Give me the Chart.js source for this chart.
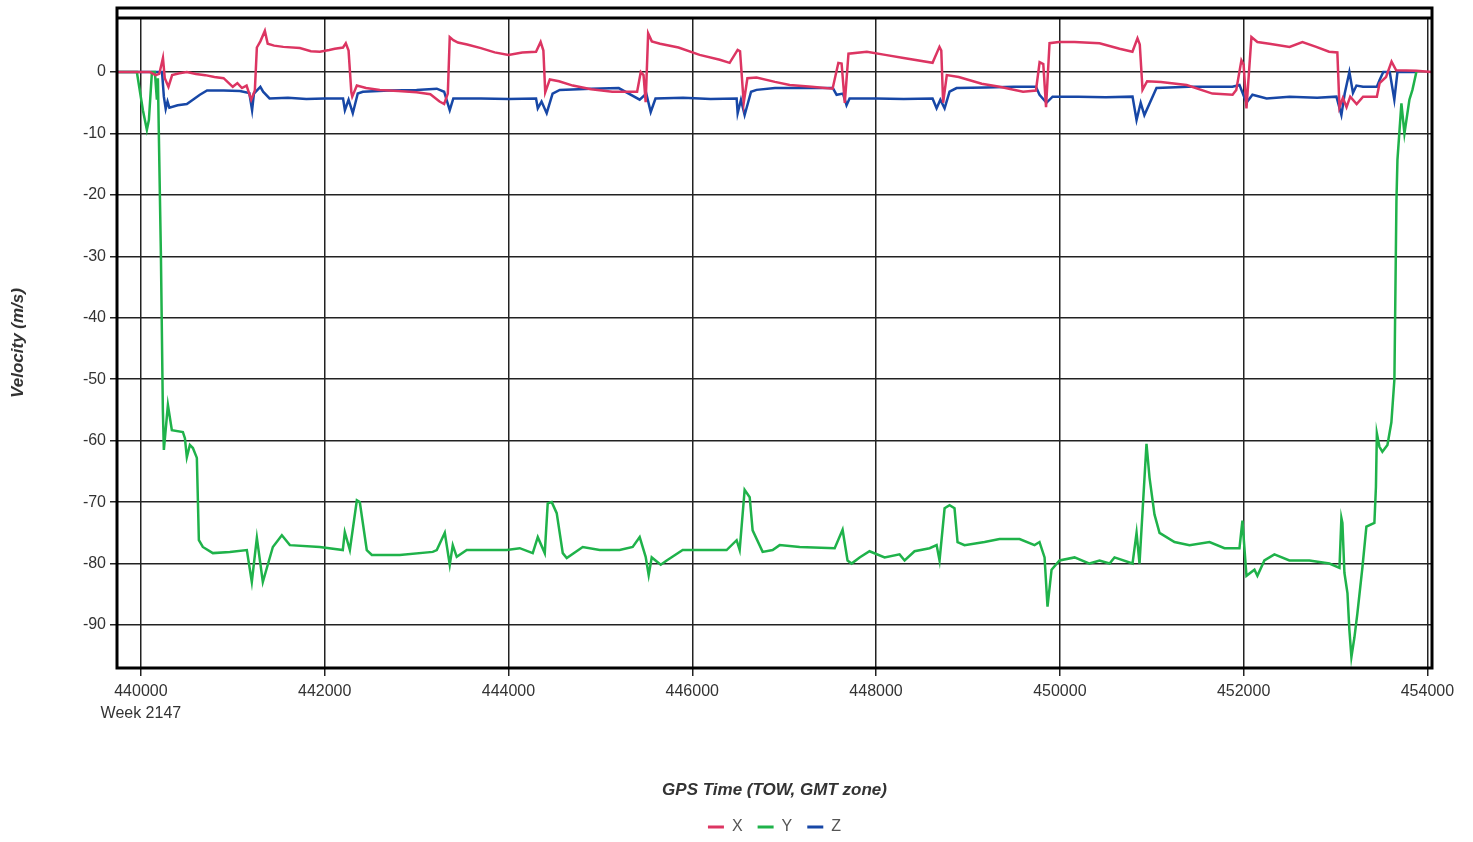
<!DOCTYPE html>
<html lang="en">
<head>
  <meta charset="UTF-8" />
  <title>Velocity vs GPS Time</title>
  <script src="https://cdn.jsdelivr.net/npm/chart.js"></script>
  <style>
    body { margin: 0; background: #fff; }
  </style>
</head>
<body>
  <canvas id="velChart" width="1473" height="842"></canvas>

  <script>
    // axis ticks
    const xTickValues = [440000, 442000, 444000, 446000, 448000, 450000, 452000, 454000];
    const yTickValues = [-90, -80, -70, -60, -50, -40, -30, -20, -10, 0];

    // X velocity (time of week, m/s)
    const xTime = [439740, 440100, 440160, 440200, 440240, 440260, 440300, 440340, 440420, 440500,
      440600, 440700, 440800, 440900, 441000, 441050, 441100, 441150, 441200, 441240,
      441262, 441300, 441349, 441380, 441450, 441550, 441730, 441850, 441947, 442050,
      442110, 442200, 442230, 442260, 442290, 442300, 442350, 442450, 442600, 442800,
      443000, 443150, 443250, 443300, 443340, 443361, 443400, 443450, 443550, 443700,
      443850, 444000, 444150, 444300, 444350, 444380, 444400, 444450, 444550, 444700,
      444900, 445130, 445400, 445440, 445470, 445493, 445520, 445560, 445650, 445850,
      446080, 446300, 446407, 446494, 446520, 446560, 446600, 446700, 446900, 447060,
      447300, 447527, 447590, 447625, 447660, 447700, 447900, 448100, 448300, 448615,
      448690, 448710, 448730, 448770, 448900, 449150, 449344, 449600, 449740, 449780,
      449820, 449850, 449888, 449990, 450160, 450432, 450650, 450790, 450845, 450870,
      450900, 450950, 451100, 451380, 451660, 451880, 451920, 451976, 452000, 452031,
      452085, 452150, 452280, 452500, 452640, 452790, 452930, 453020, 453043, 453080,
      453120, 453160, 453230, 453300, 453450, 453480, 453550, 453610, 453660, 453880,
      454054];
    const xVel = [0, 0, -0.5, -0.3, 2.3, -1, -2.4, -0.5, -0.2, 0,
      -0.3, -0.5, -0.8, -1, -2.4, -1.8, -2.6, -2.2, -4.5, -3,
      4, 5, 6.7, 4.6, 4.3, 4.1, 3.9, 3.4, 3.3, 3.6,
      3.8, 4.0, 4.7, 3.5, -3.3, -4, -2.2, -2.6, -2.9, -3.1,
      -3.3, -3.6, -4.8, -5.2, -3.5, 5.7, 5.2, 4.8, 4.5, 3.9,
      3.2, 2.8, 3.2, 3.3, 4.9, 3.5, -3.3, -1.2, -1.5, -2.2,
      -2.8, -3.2, -3.2, 0, -0.5, -4.9, 6.3, 5.0, 4.6, 4.0,
      2.8, 2.0, 1.5, 3.6, 3.4, -5, -1, -0.9, -1.6, -2.1,
      -2.4, -2.7, 1.5, 1.4, -5, 3.0, 3.3, 2.8, 2.3, 1.5,
      4.1, 3.5, -5, -0.5, -0.8, -1.9, -2.4, -3.2, -3.0, 1.6,
      1.3, -5.7, 4.7, 4.9, 4.9, 4.7, 3.8, 3.3, 5.5, 4.5,
      -2.9, -1.5, -1.6, -2.1, -3.5, -3.7, -2.9, 1.9, 1.2, -5.9,
      5.7, 4.9, 4.6, 4.1, 4.9, 4.1, 3.3, 3.2, -5.7, -4.2,
      -5.7, -4, -5.2, -4, -4, -1.8, -0.8, 1.7, 0.3, 0.2,
      0];

    // Y velocity
    const yTime = [439740, 439956, 440022, 440065, 440087, 440120, 440152, 440174, 440185, 440218,
      440239, 440250, 440294, 440337, 440457, 440479, 440500, 440533, 440566, 440609,
      440631, 440674, 440783, 440968, 441153, 441207, 441262, 441327, 441436, 441534,
      441621, 441947, 442197, 442219, 442274, 442350, 442382, 442458, 442513, 442817,
      443176, 443220, 443307, 443361, 443394, 443437, 443546, 443981, 444123, 444264,
      444319, 444395, 444427, 444471, 444525, 444591, 444634, 444808, 444993, 445210,
      445352, 445428, 445493, 445526, 445559, 445657, 445722, 445896, 446374, 446483,
      446516, 446570, 446625, 446657, 446766, 446875, 446951, 447169, 447550, 447636,
      447690, 447734, 447821, 447929, 448093, 448256, 448311, 448419, 448583, 448659,
      448691, 448746, 448800, 448854, 448887, 448963, 449181, 449344, 449562, 449725,
      449779, 449834, 449866, 449910, 449997, 450160, 450323, 450432, 450541, 450595,
      450791, 450835, 450867, 450943, 450976, 451030, 451085, 451248, 451411, 451629,
      451792, 451955, 451987, 452031, 452118, 452150, 452226, 452335, 452498, 452716,
      452934, 453043, 453064, 453075, 453097, 453130, 453151, 453173, 453206, 453238,
      453293, 453336, 453423, 453440, 453450, 453478, 453510, 453565, 453608, 453641,
      453663, 453674, 453717, 453750, 453804, 453837, 453880];
    const yVel = [0, 0, -6.2, -9.4, -7.8, 0, 0, -4.5, -1, -30,
      -55, -61.5, -54.2, -58.3, -58.6, -59.6, -62.7, -60.7, -61.2, -62.8,
      -76.2, -77.3, -78.3, -78.1, -77.8, -83, -75.8, -83, -77.3, -75.4,
      -77, -77.3, -77.8, -74.9, -77.8, -69.7, -70, -77.8, -78.6, -78.6,
      -78.1, -77.8, -75, -80.2, -77, -78.9, -77.8, -77.8, -77.5, -78.3,
      -75.7, -78.3, -70.2, -70, -71.8, -78.3, -79.1, -77.3, -77.8, -77.8,
      -77.3, -75.7, -78.9, -81.9, -79, -80.2, -79.5, -77.8, -77.8, -76.2,
      -77.8, -68, -69.2, -74.6, -78.1, -77.8, -77, -77.3, -77.5, -74.5,
      -79.5, -80, -79, -78, -79, -78.5, -79.5, -78, -77.5, -77,
      -79.5, -71, -70.5, -71, -76.5, -77, -76.5, -76, -76, -77,
      -76.5, -79, -87, -81, -79.5, -79, -80, -79.5, -80, -79,
      -80, -75, -80, -60.5, -66, -72, -75, -76.5, -77, -76.5,
      -77.5, -77.5, -73, -82, -81, -82, -79.5, -78.5, -79.5, -79.5,
      -80, -80.7, -72.6, -73.4, -81.5, -84.8, -90.8, -95.2, -92, -88.1,
      -80.6, -74, -73.4, -67.5, -58.8, -61, -61.8, -60.7, -57, -50,
      -21, -14.3, -5.1, -10, -4.5, -2.9, 0];

    // Z velocity
    const zTime = [439740, 440150, 440230, 440250, 440270, 440290, 440310, 440400, 440500, 440566,
      440642, 440720, 440900, 441077, 441180, 441210, 441230, 441300, 441330, 441400,
      441600, 441800, 442000, 442200, 442220, 442260, 442306, 442360, 442415, 442700,
      443000, 443220, 443300, 443361, 443400, 443700, 444000, 444300, 444319, 444360,
      444416, 444480, 444558, 444900, 445200, 445428, 445500, 445548, 445600, 445900,
      446200, 446483, 446494, 446530, 446570, 446640, 446700, 446900, 447200, 447530,
      447571, 447640, 447679, 447712, 448000, 448300, 448615, 448659, 448700, 448746,
      448800, 448876, 449200, 449500, 449740, 449779, 449855, 449921, 450200, 450500,
      450791, 450835, 450880, 450920, 451052, 451400, 451700, 451878, 451955, 452031,
      452096, 452250, 452500, 452800, 453010, 453064, 453100, 453151, 453190, 453228,
      453300, 453450, 453480, 453520, 453590, 453640, 453674, 453880];
    const zVel = [0, 0, 0, -4, -6, -4.8, -5.8, -5.4, -5.2, -4.5,
      -3.7, -3.0, -3.0, -3.1, -3.4, -6.2, -3.5, -2.4, -3.2, -4.3,
      -4.2, -4.4, -4.3, -4.3, -6.2, -4.5, -6.7, -3.5, -3.2, -3.0,
      -2.9, -2.7, -3.2, -6.2, -4.3, -4.3, -4.4, -4.3, -5.9, -4.8,
      -6.7, -3.5, -2.9, -2.7, -2.6, -4.5, -3.5, -6.5, -4.3, -4.2,
      -4.4, -4.3, -6.7, -4.5, -7, -3.2, -2.9, -2.6, -2.6, -2.6,
      -3.7, -3.5, -5.4, -4.3, -4.3, -4.4, -4.3, -5.9, -4.5, -5.9,
      -3.2, -2.6, -2.5, -2.4, -2.4, -3.7, -5, -4, -4, -4.1,
      -4, -7.8, -5, -7, -2.6, -2.4, -2.4, -2.4, -2.1, -5,
      -3.7, -4.3, -4, -4.2, -4, -7, -3.5, 0, -3.4, -2.2,
      -2.4, -2.4, -1.3, 0, 0, -4.5, 0, 0];

    const seriesNames = ['X', 'Y', 'Z'];
    const seriesColors = ['#dc3562', '#1fb24a', '#1747a6'];

    function toPoints(times, values) {
      return times.map((t, i) => ({ x: t, y: values[i] }));
    }

    // thick frame around the plot, plus the empty strip on top
    const framePlugin = {
      id: 'frame',
      afterDraw(chart) {
        const { ctx, chartArea: a } = chart;
        ctx.save();
        ctx.strokeStyle = '#000';
        ctx.lineWidth = 3;
        ctx.beginPath();
        ctx.moveTo(a.left, a.top - 10);
        ctx.lineTo(a.left, a.bottom);
        ctx.lineTo(a.right, a.bottom);
        ctx.lineTo(a.right, a.top - 10);
        ctx.closePath();
        ctx.moveTo(a.left, a.top);
        ctx.lineTo(a.right, a.top);
        ctx.stroke();
        ctx.restore();
      }
    };

    const fontFamily = 'Arial, "Liberation Sans", sans-serif';
    const tickFont = { family: fontFamily, size: 16 };
    const titleFont = { family: fontFamily, size: 17, weight: 'bold', style: 'italic' };

    const ctx = document.getElementById('velChart').getContext('2d');
    new Chart(ctx, {
      type: 'line',
      data: {
        datasets: [
          { label: seriesNames[0], data: toPoints(xTime, xVel) },
          { label: seriesNames[1], data: toPoints(yTime, yVel) },
          { label: seriesNames[2], data: toPoints(zTime, zVel) }
        ].map((d, i) => Object.assign(d, {
          borderColor: seriesColors[i],
          backgroundColor: seriesColors[i],
          borderWidth: 2.5,
          pointRadius: 0,
          tension: 0,
          fill: false
        }))
      },
      options: {
        responsive: false,
        animation: false,
        layout: { padding: { top: 18, right: 41, left: 0, bottom: -3 } },
        plugins: {
          legend: {
            position: 'bottom',
            fullSize: false,
            labels: {
              boxWidth: 16,
              boxHeight: 3,
              padding: 15,
              color: '#555',
              font: { family: fontFamily, size: 16 },
              generateLabels: chart =>
                Chart.defaults.plugins.legend.labels.generateLabels(chart)
                  .map(l => Object.assign(l, { lineWidth: 0 }))
            }
          },
          tooltip: { enabled: false }
        },
        scales: {
          x: {
            type: 'linear',
            min: 439740,
            max: 454050,
            afterBuildTicks: s => { s.ticks = xTickValues.map(v => ({ value: v })); },
            afterFit: s => { s.height = 136; },
            ticks: {
              autoSkip: false,
              maxRotation: 0,
              padding: 5,
              color: '#333',
              font: Object.assign({ lineHeight: 1.375 }, tickFont),
              callback: (v, i) => i === 0 ? [String(v), 'Week 2147'] : String(v)
            },
            grid: { color: '#222', lineWidth: 1.5, tickLength: 8 },
            border: { display: false },
            title: {
              display: true,
              text: 'GPS Time (TOW, GMT zone)',
              color: '#333',
              font: titleFont,
              padding: { top: 0, bottom: 3 }
            }
          },
          y: {
            min: -97,
            max: 8.8,
            afterBuildTicks: s => { s.ticks = yTickValues.map(v => ({ value: v })); },
            afterFit: s => { s.width = 117; },
            ticks: {
              padding: 4,
              color: '#333',
              font: tickFont,
              callback: v => String(v)
            },
            grid: { color: '#222', lineWidth: 1.5, tickLength: 7 },
            border: { display: false },
            title: {
              display: true,
              text: 'Velocity (m/s)',
              color: '#333',
              font: titleFont,
              padding: { top: 8, bottom: 0 }
            }
          }
        }
      },
      plugins: [framePlugin]
    });
  </script>
</body>
</html>
